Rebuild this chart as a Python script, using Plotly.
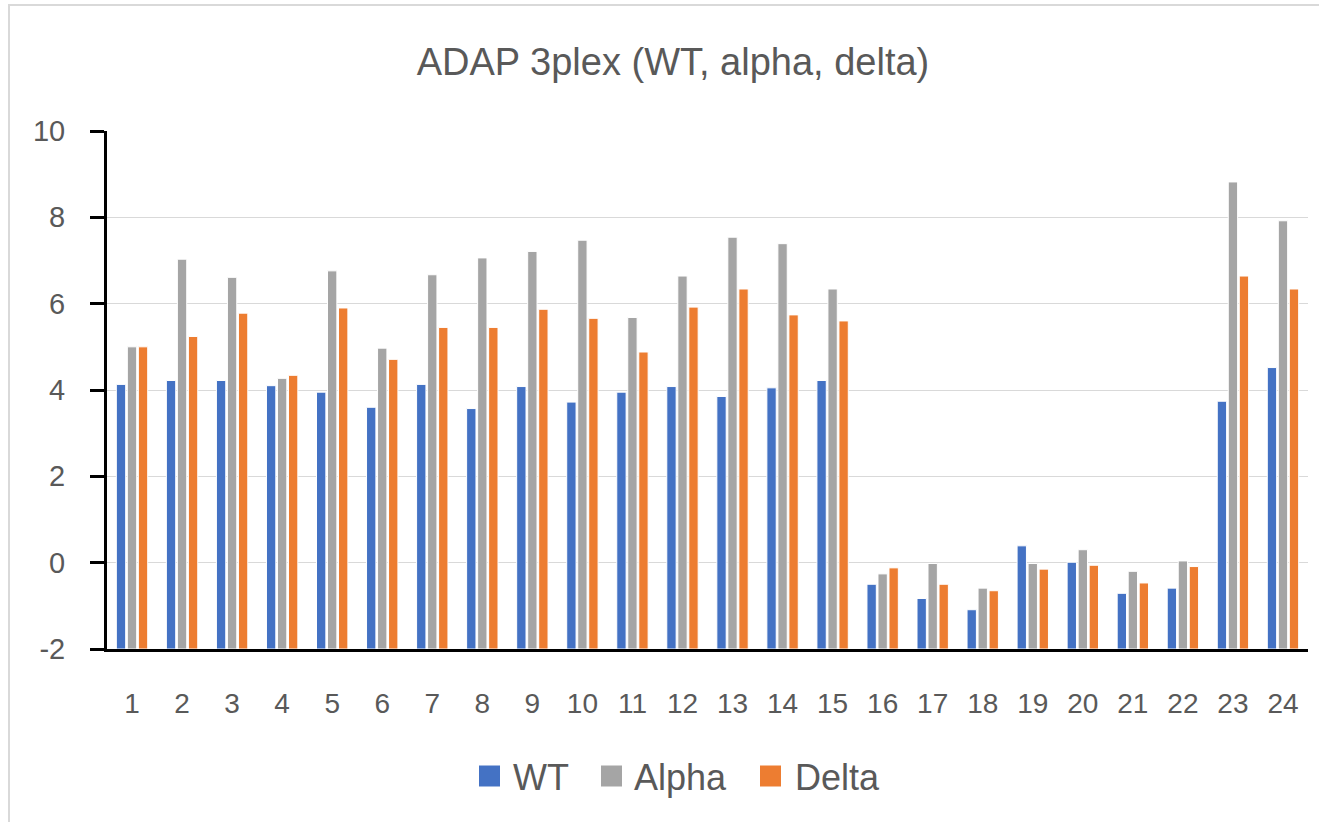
import plotly.graph_objects as go

categories = [str(i) for i in range(1, 25)]
wt = [4.13, 4.22, 4.22, 4.10, 3.95, 3.60, 4.13, 3.57, 4.08, 3.72, 3.95, 4.08,
      3.85, 4.05, 4.22, -0.50, -0.83, -1.09, 0.39, 0.01, -0.71, -0.59, 3.74, 4.52]
alpha = [5.00, 7.03, 6.61, 4.27, 6.76, 4.97, 6.67, 7.06, 7.21, 7.47, 5.68, 6.64,
         7.54, 7.39, 6.34, -0.26, -0.02, -0.59, -0.02, 0.30, -0.20, 0.04, 8.82, 7.92]
delta = [5.00, 5.24, 5.78, 4.34, 5.90, 4.71, 5.45, 5.45, 5.87, 5.66, 4.88, 5.92,
         6.34, 5.74, 5.60, -0.12, -0.50, -0.65, -0.15, -0.06, -0.47, -0.09, 6.64, 6.34]
series_names = ["WT", "Alpha", "Delta"]
colors = ["#4472C4", "#A5A5A5", "#ED7D31"]
title_text = "ADAP 3plex (WT, alpha, delta)"
y_ticks = [-2, 0, 2, 4, 6, 8, 10]
y_ticktext = ["-2", "0", "2", "4", "6", "8", "10"]
axis_base = -2  # horizontal axis crosses at -2, bars grow from there

W, H = 1319, 822
L, R, T, B = 107, 11, 131, 173

fig = go.Figure()
for name, vals, col in zip(series_names, [wt, alpha, delta], colors):
    fig.add_trace(go.Bar(
        x=categories, y=[v - axis_base for v in vals], base=axis_base, name=name,
        customdata=vals, hovertemplate="%{x}: %{customdata}<extra>" + name + "</extra>",
        marker=dict(color=col, line=dict(color="white", width=1)),
        showlegend=False,
    ))

pw = W - L - R
ph = H - T - B

def px_x(px):
    return (px - L) / pw

def px_y(py):
    return (H - B - py) / ph

# manual legend (Excel-style large squares)
legend_sq_x = [479, 601, 760]
legend_txt_x = [511, 632, 793]
legend_yc = 776
sq = 21
shapes = [dict(type="rect", xref="paper", yref="paper",
               x0=px_x(9), x1=px_x(W + 20), y0=px_y(H + 20), y1=px_y(5),
               line=dict(color="#D9D9D9", width=2), fillcolor="rgba(0,0,0,0)",
               layer="below")]
annotations = []
for name, col, sx, tx in zip(series_names, colors, legend_sq_x, legend_txt_x):
    shapes.append(dict(type="rect", xref="paper", yref="paper",
                       x0=px_x(sx), x1=px_x(sx + sq),
                       y0=px_y(legend_yc + sq / 2), y1=px_y(legend_yc - sq / 2),
                       line=dict(width=0), fillcolor=col))
    annotations.append(dict(text=name, xref="paper", yref="paper",
                            x=px_x(tx), y=px_y(legend_yc + 1), xanchor="left",
                            yanchor="middle", showarrow=False,
                            font=dict(size=36, color="#595959")))

fig.update_layout(
    width=W, height=H,
    margin=dict(l=L, r=R, t=T, b=B, autoexpand=False),
    paper_bgcolor="white", plot_bgcolor="white",
    barmode="group", bargap=0.34, bargroupgap=0.15,
    font=dict(family="Liberation Sans, Arial, sans-serif", color="#595959"),
    title=dict(text=title_text, x=673 / W, xref="container", xanchor="center",
               y=1 - 62 / H, yanchor="middle",
               font=dict(size=38, color="#595959")),
    showlegend=False,
    xaxis=dict(type="category", showline=True, linecolor="black", linewidth=3,
               ticks="", tickfont=dict(size=28, color="#595959"),
               ticklabelstandoff=27, showgrid=False, zeroline=False),
    yaxis=dict(range=[-2, 10], tickvals=y_ticks, ticktext=y_ticktext,
               showline=True, linecolor="black",
               linewidth=3, ticks="outside", ticklen=14, tickwidth=3,
               tickcolor="black", tickfont=dict(size=29, color="#595959"),
               ticklabelstandoff=19,
               showgrid=True, gridcolor="#D9D9D9", gridwidth=1, zeroline=False),
    shapes=shapes,
    annotations=annotations,
)

fig.write_html("out.html")
